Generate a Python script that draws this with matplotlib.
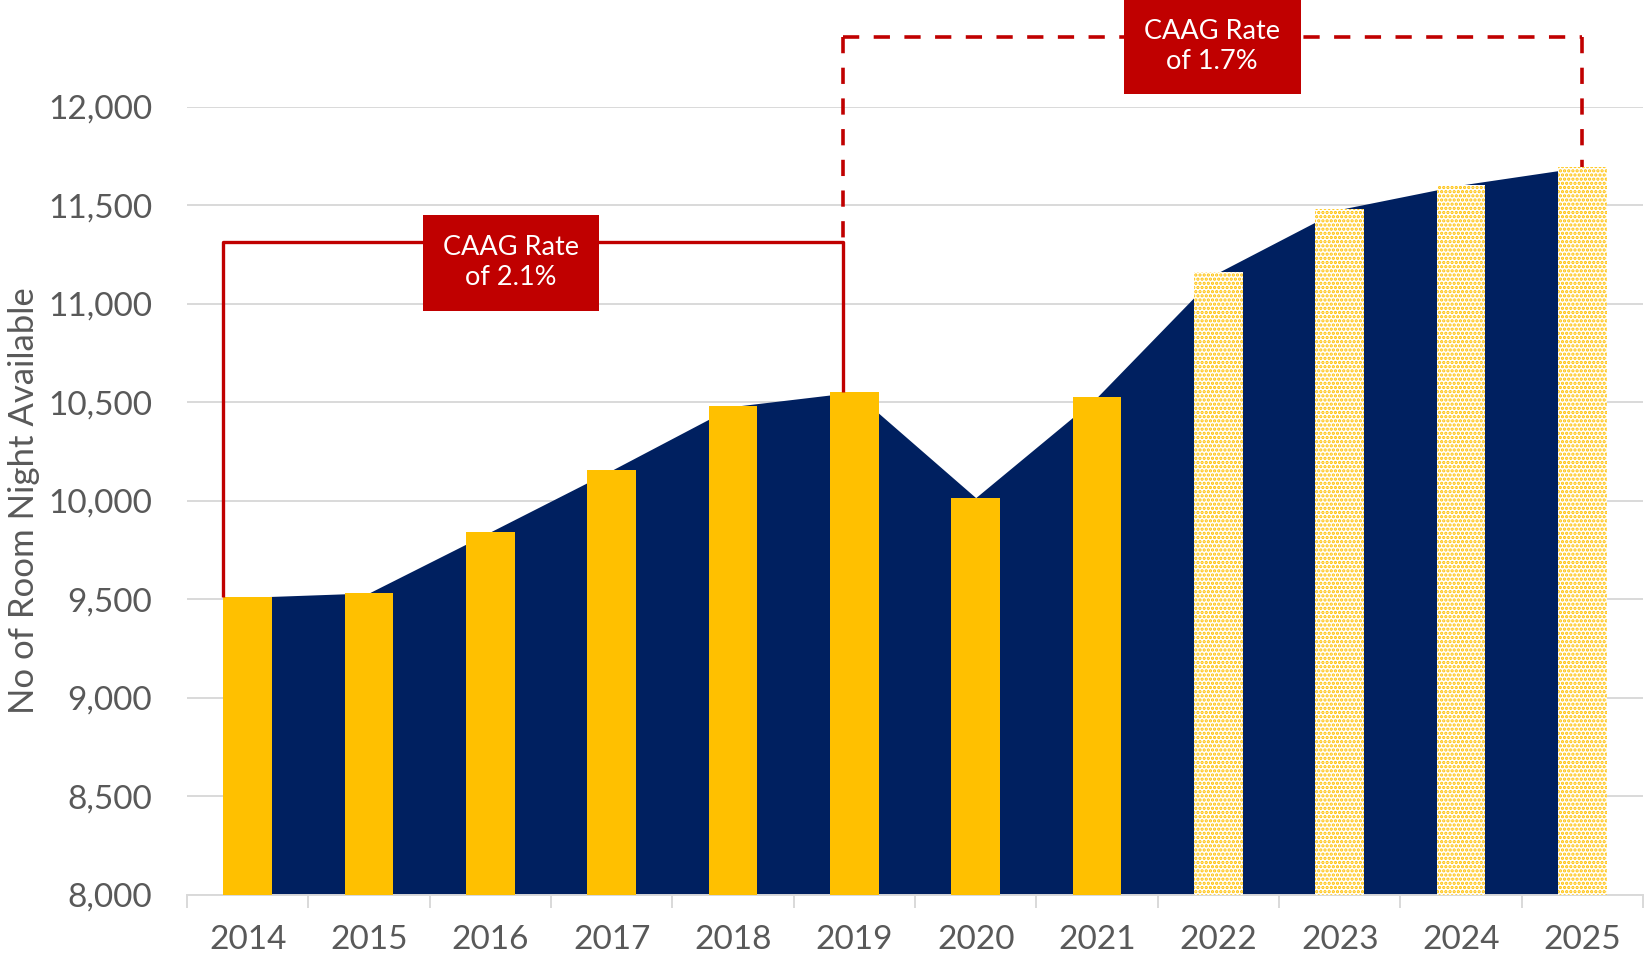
import numpy as np
import matplotlib.pyplot as plt

plt.rcParams["font.family"] = ["Lato", "DejaVu Sans"]
plt.rcParams["hatch.linewidth"] = 1.6

years = ["2014", "2015", "2016", "2017", "2018", "2019",
         "2020", "2021", "2022", "2023", "2024", "2025"]
rooms = [9510, 9532, 9842, 10155, 10479, 10552,
         10016, 10526, 11160, 11480, 11604, 11695]
forecast_from = "2022"

navy = "#002060"
gold = "#FFC000"
red = "#C00000"
grey = "#595959"
grid = "#D9D9D9"

x = np.arange(len(years))
n_act = years.index(forecast_from)
bar_w = 0.4

fig = plt.figure(figsize=(16.46, 9.58), dpi=100)
ax = fig.add_axes([0.1136, 0.0662, 0.8846, 0.8221])

# area behind the bars
ax.fill_between(x, rooms, 8000, color=navy, lw=0, zorder=2)

# actual vs forecast bars
ax.bar(x[:n_act], rooms[:n_act], width=bar_w, color=gold, lw=0, zorder=3)
ax.bar(x[n_act:], rooms[n_act:], width=bar_w, facecolor="white",
       edgecolor=gold, hatch="....", lw=0, zorder=3)

ax.set_xlim(-0.5, len(years) - 0.5)
ax.set_ylim(8000, 12000)
ax.set_yticks(np.arange(8000, 12001, 500))
ax.set_yticklabels([f"{v:,}" for v in range(8000, 12001, 500)])
ax.set_xticks(x)
ax.set_xticklabels(years)
ax.set_xticks(np.arange(-0.5, len(years)), minor=True)

ax.yaxis.grid(True, color=grid, lw=1.4)
ax.set_axisbelow(True)
for s in ["top", "right", "left"]:
    ax.spines[s].set_visible(False)
ax.spines["bottom"].set_color(grid)
ax.spines["bottom"].set_linewidth(1.4)

ax.tick_params(axis="y", length=0, pad=25, labelsize=24, labelcolor=grey)
ax.tick_params(axis="x", which="major", length=0, pad=22, labelsize=24, labelcolor=grey)
ax.tick_params(axis="x", which="minor", length=9, width=1.4, color=grid)

fig.text(0.0146, 0.477, "No of Room Night Available", rotation=90,
         ha="center", va="center", fontsize=25, color=grey)

# CAAG brackets
y_lo, y_hi = 11312, 12357
x_left = x[0] - bar_w / 2
x_mid = x[5] - 0.095
x_right = x[-1]
solid = dict(color=red, lw=2.4, clip_on=False, zorder=5, solid_capstyle="butt")
dashed = dict(color=red, lw=2.6, clip_on=False, zorder=5, linestyle=(0, (4.5, 4.0)))

ax.plot([x_mid, x_mid], [y_hi, y_lo], **dashed)
ax.plot([x_mid, x_right], [y_hi, y_hi], **dashed)
ax.plot([x_right, x_right], [y_hi, rooms[-1]], **dashed)

ax.plot([x_left, x_left, x_mid, x_mid], [rooms[0], y_lo, y_lo, rooms[5]], **solid)

box = dict(boxstyle="square,pad=0.75", facecolor=red, edgecolor="none")
ax.text(2.17, 11208, "CAAG Rate\nof 2.1%", ha="center", va="center",
        fontsize=19.5, color="white", bbox=box, zorder=6, linespacing=1.25)
ax.text(7.95, 12307, "CAAG Rate\nof 1.7%", ha="center", va="center",
        fontsize=19.5, color="white", bbox=box, zorder=6, linespacing=1.25,
        clip_on=False)

fig.savefig("out.png", dpi=100)
